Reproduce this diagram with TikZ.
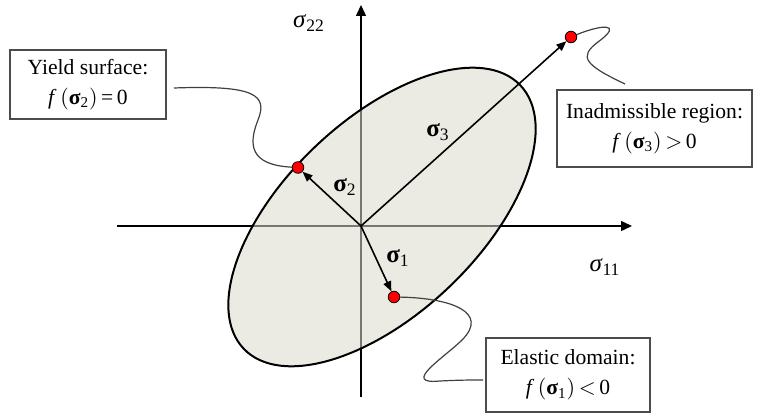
\documentclass[tikz,border=0pt]{standalone}
\usepackage{fontspec}
\setmainfont{Liberation Serif}
\usetikzlibrary{arrows.meta}
\definecolor{ellfill}{RGB}{219,219,204}
\begin{document}
\begin{tikzpicture}[x=0.5pt,y=0.5pt,
  font=\fontsize{10.8}{15}\selectfont,
  axisline/.style={line width=0.75pt,-{Triangle[length=5.5pt,width=5pt]}},
  vec/.style={line width=0.8pt,-{Triangle[length=5pt,width=4pt]}},
  reddot/.style={circle,fill=red,draw=black,line width=0.4pt,inner sep=0pt,minimum size=5.8pt},
  lead/.style={line width=0.6pt,draw=black!75},
  veclabel/.style={font=\fontsize{12.5}{15}\selectfont},
  infobox/.style={draw=black!70,line width=0.75pt,align=center,inner sep=0pt}]
\useasboundingbox (0,0) rectangle (772,-417);
% axes
\coordinate (O) at (361,-226);
\coordinate (hl) at (117,-226);
\coordinate (hr) at (632,-226);
\coordinate (vb) at (361,-397);
\coordinate (vt) at (361,-5);
\draw[axisline] (hl) -- (hr);
\draw[axisline] (vb) -- (vt);
% ellipse
\fill[ellfill,fill opacity=0.55,rotate around={43.6:(382,-217)}] (382,-217) ellipse [x radius=191,y radius=97];
\draw[line width=1pt,rotate around={43.6:(382,-217)}] (382,-217) ellipse [x radius=191,y radius=97];
% dots
\node[reddot] (d3) at (571,-37) {};
\node[reddot] (d2) at (298,-167.5) {};
\node[reddot] (d1) at (394,-297) {};
% vectors
\draw[vec] (O) -- (d3);
\draw[vec] (O) -- (d2);
\draw[vec] (O) -- (d1);
% labels
\node[veclabel] (l3) at (438,-132) {\textbf{σ}\textsubscript{\normalfont 3}};
\node[veclabel] (l2) at (345,-187) {\textbf{σ}\textsubscript{\normalfont 2}};
\node[veclabel] (l1) at (398,-258) {\textbf{σ}\textsubscript{\normalfont 1}};
\node[veclabel] (s22) at (309,-23) {\textit{σ}\textsubscript{\normalfont 22}};
\node[veclabel] (s11) at (605,-267) {\textit{σ}\textsubscript{\normalfont 11}};
% boxes
\node[infobox,minimum width=78pt,minimum height=34.5pt] (yb) at (88,-84.5)
  {Yield surface:\\ \textit{f}\,$\bigl($\textbf{σ}\textsubscript{\normalfont 2}$\bigr)$\,=\,0};
\node[infobox,minimum width=97.5pt,minimum height=38.5pt] (ib) at (654.5,-128.5)
  {Inadmissible region:\\ \textit{f}\,$\bigl($\textbf{σ}\textsubscript{\normalfont 3}$\bigr)$\,$>$\,0};
\node[infobox,minimum width=82pt,minimum height=37pt] (eb) at (568,-375)
  {Elastic domain:\\ \textit{f}\,$\bigl($\textbf{σ}\textsubscript{\normalfont 1}$\bigr)$\,$<$\,0};
% leader curves
\coordinate (ys) at (174,-88);
\coordinate (is) at (625,-84);
\coordinate (es) at (483,-380);
\draw[lead] (ys) .. controls (255,-85) and (268,-95) .. (258,-120) .. controls (248,-145) and (250,-165) .. (d2);
\draw[lead] (d3) .. controls (600,-25) and (625,-22) .. (598,-42) .. controls (578,-57) and (585,-65) .. (is);
\draw[lead] (d1) .. controls (450,-298) and (490,-312) .. (462,-340) .. controls (445,-357) and (400,-385) .. (440,-381) .. controls (460,-380) and (470,-380) .. (es);
\end{tikzpicture}
\end{document}
